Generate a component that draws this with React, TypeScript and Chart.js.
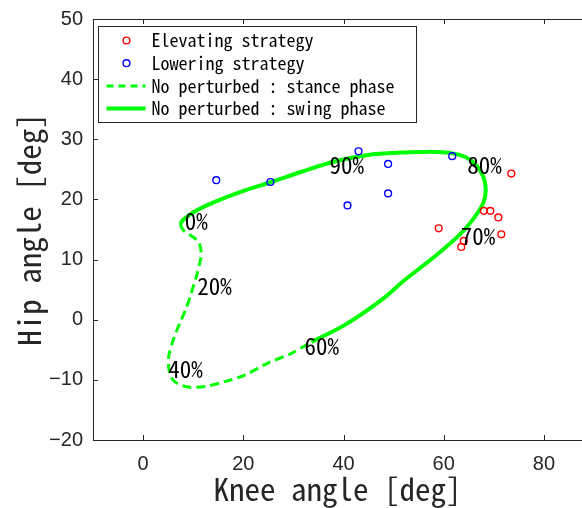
import React, { useEffect, useRef } from "react";
import { Chart, registerables } from "chart.js";
Chart.register(...registerables);

const MONO = "'Noto Sans Mono CJK JP', 'Noto Sans CJK JP', sans-serif";
const TICKFONT = "'Liberation Sans', Arial, sans-serif";
const AXIS_COLOR = "#262626";

// Elevating strategy (red circles)
const elevatingKnee = [73.5, 68.0, 69.3, 70.9, 71.5, 59.0, 64.0, 63.5];
const elevatingHip = [24.3, 18.1, 18.1, 17.0, 14.2, 15.2, 13.1, 12.1];

// Lowering strategy (blue circles)
const loweringKnee = [14.6, 25.4, 40.8, 43.0, 48.9, 48.9, 61.7];
const loweringHip = [23.2, 22.9, 19.0, 28.0, 25.9, 21.0, 27.2];

// No perturbed : stance phase (dashed)
const stanceKnee = [7.4, 8.0, 11.0, 11.6, 11.3, 10.6, 9.6, 8.6, 7.3, 6.0, 5.1, 5.3, 6.3, 9.0, 12.3, 16.3, 20.3, 24.9, 29.6, 33.6];
const stanceHip = [15.9, 14.9, 13.0, 11.0, 9.4, 7.1, 4.4, 1.9, -0.6, -3.4, -6.2, -8.9, -10.3, -11.2, -11.1, -10.3, -9.2, -7.2, -5.6, -3.7];

// No perturbed : swing phase (solid)
const swingKnee = [33.6, 40.2, 47.6, 52.2, 58.2, 63.5, 66.2, 67.9, 68.4, 67.9, 66.2, 64.2, 61.5, 58.2, 56.2, 51.6, 44.9, 38.2, 31.6, 25.6, 19.6, 14.3, 10.3, 8.0, 7.4];
const swingHip = [-3.7, -0.9, 3.3, 6.6, 10.5, 14.4, 17.1, 19.4, 21.6, 23.8, 26.0, 27.1, 27.7, 27.9, 27.9, 27.8, 27.4, 26.3, 24.6, 22.9, 21.3, 19.6, 18.0, 16.6, 15.9];

// Gait-cycle annotations
const phaseLabels = ["0%", "20%", "40%", "60%", "70%", "80%", "90%"];
const phaseKnee = [8.3, 10.8, 5.0, 32.2, 63.4, 64.7, 37.2];
const phaseHip = [16.4, 5.6, -8.2, -4.4, 13.9, 25.6, 25.6];

const xTicks = [0, 20, 40, 60, 80];
const yTicks = [-20, -10, 0, 10, 20, 30, 40, 50];
const xMin = -10;
const xMax = 87.6;
const yMin = -20;
const yMax = 50;

const toPoints = (xs: number[], ys: number[]) => xs.map((x, i) => ({ x, y: ys[i] }));

const framePlugin = {
  id: "frame",
  afterDatasetsDraw(chart: any) {
    const { ctx, chartArea, scales } = chart;
    const { left, right, top, bottom } = chartArea;
    ctx.save();
    ctx.strokeStyle = AXIS_COLOR;
    ctx.lineWidth = 1;
    ctx.beginPath();
    ctx.moveTo(left + 0.5, top + 0.5);
    ctx.lineTo(right, top + 0.5);
    ctx.moveTo(left + 0.5, top);
    ctx.lineTo(left + 0.5, bottom + 0.5);
    ctx.lineTo(right, bottom + 0.5);
    const tl = 5;
    xTicks.forEach((v) => {
      const px = Math.round(scales.x.getPixelForValue(v)) + 0.5;
      ctx.moveTo(px, bottom);
      ctx.lineTo(px, bottom - tl);
      ctx.moveTo(px, top);
      ctx.lineTo(px, top + tl);
    });
    yTicks.forEach((v) => {
      const py = Math.round(scales.y.getPixelForValue(v)) + 0.5;
      ctx.moveTo(left, py);
      ctx.lineTo(left + tl, py);
    });
    ctx.stroke();

    // phase annotations
    ctx.fillStyle = "#000000";
    ctx.font = `23px ${MONO}`;
    ctx.textAlign = "left";
    ctx.textBaseline = "middle";
    phaseLabels.forEach((t, i) => {
      ctx.fillText(t, scales.x.getPixelForValue(phaseKnee[i]), scales.y.getPixelForValue(phaseHip[i]));
    });

    // legend
    const bx = left + 5.5;
    const by = top + 7.5;
    const bw = 318;
    const bh = 96;
    ctx.fillStyle = "#ffffff";
    ctx.fillRect(bx, by, bw, bh);
    ctx.strokeStyle = AXIS_COLOR;
    ctx.strokeRect(bx, by, bw, bh);
    const rowH = 22.7;
    const textX = bx + 53;
    chart.data.datasets.forEach((ds: any, i: number) => {
      const cy = by + 14 + i * rowH;
      ctx.save();
      if (ds.showLine) {
        ctx.strokeStyle = ds.borderColor;
        ctx.lineWidth = ds.borderWidth;
        ctx.setLineDash(ds.borderDash && ds.borderDash.length ? [7, 5] : []);
        ctx.beginPath();
        ctx.moveTo(bx + 8, cy);
        ctx.lineTo(bx + 47, cy);
        ctx.stroke();
      } else {
        ctx.strokeStyle = ds.borderColor;
        ctx.lineWidth = ds.borderWidth;
        ctx.beginPath();
        ctx.arc(bx + 28, cy, ds.pointRadius, 0, Math.PI * 2);
        ctx.stroke();
      }
      ctx.restore();
      ctx.fillStyle = "#000000";
      ctx.font = `18px ${MONO}`;
      ctx.textBaseline = "middle";
      ctx.textAlign = "left";
      ctx.fillText(ds.label, textX, cy);
    });
    ctx.restore();
  },
};

export default function App() {
  const ref = useRef<HTMLCanvasElement | null>(null);
  useEffect(() => {
    if (!ref.current) return;
    const chart = new Chart(ref.current, {
      type: "scatter",
      data: {
        datasets: [
          {
            label: "Elevating strategy",
            data: toPoints(elevatingKnee, elevatingHip),
            borderColor: "#ff0000",
            backgroundColor: "rgba(0,0,0,0)",
            pointRadius: 3.4,
            borderWidth: 1.4,
            showLine: false,
          },
          {
            label: "Lowering strategy",
            data: toPoints(loweringKnee, loweringHip),
            borderColor: "#0000ff",
            backgroundColor: "rgba(0,0,0,0)",
            pointRadius: 3.4,
            borderWidth: 1.4,
            showLine: false,
          },
          {
            label: "No perturbed : stance phase",
            data: toPoints(stanceKnee, stanceHip),
            borderColor: "#00ff00",
            backgroundColor: "#00ff00",
            borderWidth: 3,
            borderDash: [9, 5],
            pointRadius: 0,
            showLine: true,
            tension: 0.3,
          },
          {
            label: "No perturbed : swing phase",
            data: toPoints(swingKnee, swingHip),
            borderColor: "#00ff00",
            backgroundColor: "#00ff00",
            borderWidth: 4,
            pointRadius: 0,
            showLine: true,
            tension: 0.3,
          },
        ],
      },
      options: {
        responsive: false,
        animation: false,
        layout: { autoPadding: false, padding: { top: 19, right: 0, left: 0, bottom: 0 } },
        plugins: { legend: { display: false }, tooltip: { enabled: false } },
        scales: {
          x: {
            type: "linear",
            min: xMin,
            max: xMax,
            afterBuildTicks: (s: any) => {
              s.ticks = xTicks.map((v) => ({ value: v }));
            },
            afterFit: (s: any) => {
              s.height = 68;
              s.paddingLeft = 0;
              s.paddingRight = 0;
            },
            grid: { display: false, drawTicks: false },
            border: { display: false },
            ticks: {
              color: AXIS_COLOR,
              padding: 12,
              maxRotation: 0,
              font: { family: TICKFONT, size: 20 },
            },
            title: {
              display: true,
              text: "Knee angle [deg]",
              color: AXIS_COLOR,
              font: { family: MONO, size: 31 },
              padding: { top: 0, bottom: 0 },
            },
          },
          y: {
            type: "linear",
            min: yMin,
            max: yMax,
            afterBuildTicks: (s: any) => {
              s.ticks = yTicks.map((v) => ({ value: v }));
            },
            afterFit: (s: any) => {
              s.width = 93;
              s.paddingTop = 0;
              s.paddingBottom = 0;
            },
            grid: { display: false, drawTicks: false },
            border: { display: false },
            ticks: {
              color: AXIS_COLOR,
              padding: 10,
              font: { family: TICKFONT, size: 20 },
              callback: (v: any) => String(v).replace("-", "\u2212"),
            },
            title: {
              display: true,
              text: "Hip angle [deg]",
              color: AXIS_COLOR,
              font: { family: MONO, size: 31 },
              padding: { top: 11, bottom: 0 },
            },
          },
        },
      },
      plugins: [framePlugin],
    });
    return () => chart.destroy();
  }, []);
  return (
    <div style={{ position: "absolute", left: 0, top: 0, width: 582, height: 508, background: "#fff" }}>
      <canvas ref={ref} width={582} height={508} style={{ width: 582, height: 508, display: "block" }} />
    </div>
  );
}
